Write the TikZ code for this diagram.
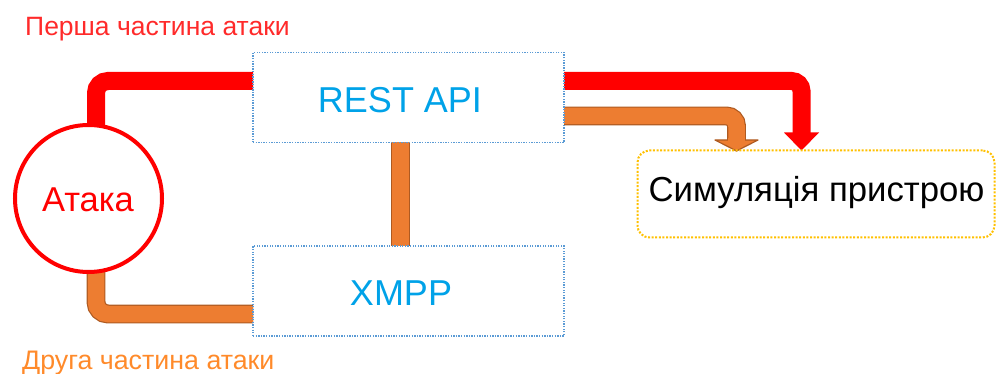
\documentclass[tikz,border=0pt]{standalone}
\usepackage{fontspec}
\setmainfont{Liberation Sans}
\usetikzlibrary{calc,backgrounds}
\definecolor{atkred}{HTML}{FF0000}
\definecolor{titlered}{HTML}{FF2A2A}
\definecolor{pipeor}{HTML}{ED7D31}
\definecolor{pipeedge}{HTML}{AE5A21}
\definecolor{titleor}{HTML}{FF8A2A}
\definecolor{apiblue}{HTML}{00A2E8}
\definecolor{frameblue}{HTML}{5B9BD5}
\definecolor{goldline}{HTML}{FFC000}
\newcommand\setfs[1]{\fontsize{#1}{#1}\selectfont}
\tikzset{
  svcbox/.style={draw=frameblue, line width=1.3pt, dash pattern=on 1.3pt off 1.3pt,
    minimum width=311pt, minimum height=90pt, inner sep=0pt, outer sep=0pt},
  svctext/.style={text=apiblue, font=\setfs{36}, inner sep=0pt},
  simbox/.style={draw=goldline, line width=2pt, dash pattern=on 2pt off 1.6pt,
    rounded corners=12pt, minimum width=357pt, minimum height=87pt, inner sep=0pt, outer sep=0pt},
  redpipe/.style={draw=atkred, line width=18pt},
  orpipe/.style={draw=pipeedge, line width=1.2pt, double=pipeor, double distance=16.5pt},
  redhead/.style={fill=atkred},
  orhead/.style={fill=pipeor, draw=pipeedge, line width=1.2pt, line join=round},
  titletext/.style={anchor=base west, inner sep=0pt}
}
\begin{document}
\begin{tikzpicture}[x=1pt,y=-1pt]
\useasboundingbox (0,0) rectangle (996,374);

% titles
\node[titletext, text=titlered, font=\setfs{26.5}] (t1) at (25,35.7) {Перша частина атаки};
\node[titletext, text=titleor, font=\setfs{26.8}] (t2) at (22,369) {Друга частина атаки};

% service boxes
\node[svcbox] (rest) at (408.5,97.5) {};
\node[svctext] (resttxt) at (400,100) {REST API};
\node[svcbox] (xmpp) at (408.5,291) {};
\node[svctext] (xmpptxt) at (401,293) {XMPP};

% target box
\node[simbox] (sim) at (816,194) {};
\node[font=\setfs{34.7}, inner sep=0pt] (simtxt) at (816.5,193) {Симуляція пристрою};

% attack circle
\node[circle, draw=atkred, line width=4pt, fill=white, minimum size=147pt,
      inner sep=0pt, outer sep=0pt] (atk) at (88.5,198.5) {};
\node[text=atkred, font=\setfs{34.5}, inner sep=0pt] (atktxt) at (88,200) {Атака};

\coordinate (redtip) at ($(sim.north west)+(164,0)$);
\coordinate (ortip) at ($(sim.north west)+(99,0.5)$);

\begin{scope}[on background layer]
  % first part of the attack
  \draw[redpipe, rounded corners=12pt] ($(atk.center)+(7.5,0)$) |- ($(rest.north west)+(0,28.5)$);
  \draw[redpipe, rounded corners=10pt] ($(rest.north east)+(0,28.5)$) -| ($(redtip)+(0,-17)$);
  \fill[redhead] ($(redtip)+(-17.5,-18)$) -- ($(redtip)+(17.5,-18)$) -- (redtip) -- cycle;
  % second part of the attack
  \draw[orpipe, rounded corners=12pt] ($(atk.center)+(7.5,0)$) |- ($(xmpp.north west)+(0,68)$);
  \draw[orpipe] ($(rest.south)+(-8,0)$) -- ($(xmpp.north)+(-8,0)$);
  \draw[orpipe, rounded corners=10pt] ($(rest.north east)+(0,63.5)$) -| ($(ortip)+(0,-10.5)$);
  \filldraw[orhead] ($(ortip)+(-21.5,-11)$) -- ($(ortip)+(21.5,-11)$) -- (ortip) -- cycle;
  \fill[pipeor] ($(ortip)+(-8.2,-12.5)$) rectangle ($(ortip)+(8.2,-9.5)$);
\end{scope}
\end{tikzpicture}
\end{document}
